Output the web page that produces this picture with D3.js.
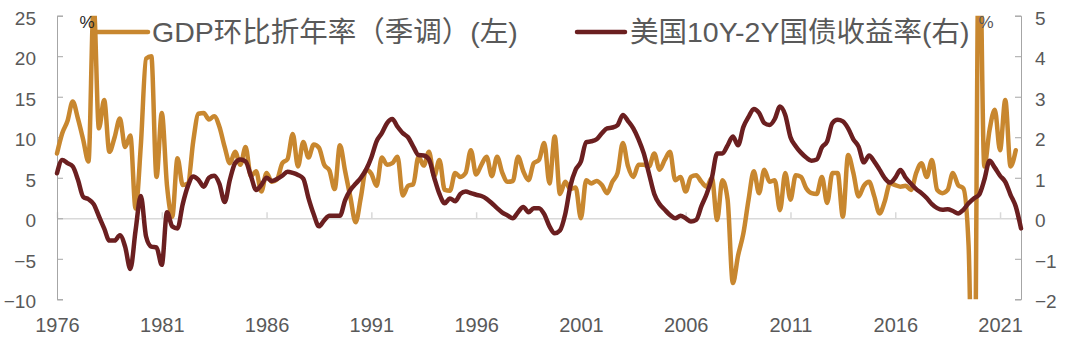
<!DOCTYPE html>
<html>
<head>
<meta charset="utf-8">
<script src="https://cdn.jsdelivr.net/npm/d3@7"></script>
<style>
  body { margin: 0; background: #fff; }
  svg { display: block; }
  text { font-family: "Liberation Sans", Arial, "Noto Sans CJK SC", sans-serif; }
</style>
</head>
<body>
<svg id="chart" width="1080" height="346"></svg>
<script>
// Quarterly series, first quarter 1976Q3
const xTickLabels = ["1976", "1981", "1986", "1991", "1996", "2001", "2006", "2011", "2016", "2021"];
const leftTicks = [-10, -5, 0, 5, 10, 15, 20, 25];
const rightTicks = [-2, -1, 0, 1, 2, 3, 4, 5];
const seriesNames = ["GDP环比折年率（季调）(左)", "美国10Y-2Y国债收益率(右)"];
const seriesColors = ["#C8872F", "#6B1F20"];

// US nominal GDP, q/q annualised, %
const gdpGrowth = [
  8.0, 10.5, 12.0, 14.4, 12.3, 9.7, 7.0, 26.5, 11.1, 14.6,
  8.2, 10.0, 12.3, 8.8, 10.2, 1.2, 9.0, 19.7, 20.0, 5.1,
  13.0, 4.0, 0.2, 7.4, 4.1, 4.3, 9.5, 12.9, 13.0, 12.2,
  12.6, 11.3, 8.8, 6.8, 8.2, 6.6, 8.8, 5.2, 5.8, 3.3,
  5.6, 4.5, 4.8, 6.8, 7.3, 10.4, 6.4, 9.4, 7.5, 9.1,
  8.7, 6.6, 5.9, 3.6, 9.0, 5.8, 2.6, -0.5, 2.6, 6.0,
  5.5, 4.0, 7.5, 6.6, 6.8, 7.6, 2.8, 4.0, 4.2, 7.6,
  6.5, 8.2, 5.2, 7.2, 3.5, 3.4, 5.6, 5.1, 5.6, 8.4,
  5.4, 6.6, 7.6, 5.2, 7.6, 5.6, 4.5, 4.6, 7.6, 5.8,
  4.7, 6.8, 7.2, 9.3, 4.3, 10.1, 3.0, 4.5, 3.6, 3.8,
  0.0, 4.7, 4.3, 4.6, 4.1, 3.1, 4.5, 5.6, 9.3, 6.4,
  5.1, 6.6, 6.6, 6.4, 8.0, 6.0, 7.2, 8.2, 4.7, 5.1,
  3.3, 5.1, 5.3, 4.5, 3.9, 5.0, -0.2, 4.7, 2.3, -8.0,
  -4.6, -1.9, 2.3, 5.8, 3.1, 6.0, 4.5, 4.7, 1.0, 5.6,
  2.3, 5.3, 5.1, 3.7, 3.1, 3.0, 5.1, 1.9, 5.6, 5.6,
  0.2, 7.8, 5.6, 2.7, 4.0, 4.5, 2.7, 0.6, 2.1, 4.3,
  4.1, 3.9, 4.0, 3.5, 5.6, 6.8, 5.1, 7.2, 3.5, 3.1,
  3.5, 5.6, 4.1, 3.7, -3.4, -33.0, 38.0, 6.4, 10.9, 13.4,
  8.4, 14.6, 6.4, 8.4
];

// US Treasury 10Y minus 2Y spread, %
const spread10y2y = [
  1.11, 1.44, 1.36, 1.28, 0.95, 0.53, 0.47, 0.35, 0.05, -0.25,
  -0.55, -0.55, -0.42, -0.70, -1.25, -0.30, 0.55, -0.45, -0.70, -0.72,
  -1.15, 0.15, -0.20, -0.25, 0.35, 0.80, 1.03, 0.95, 0.78, 1.00,
  1.05, 0.85, 0.40, 0.95, 1.36, 1.45, 1.40, 1.05, 0.70, 0.82,
  1.00, 0.92, 0.97, 1.05, 1.15, 1.12, 1.07, 0.98, 0.50, 0.10,
  -0.20, -0.05, 0.06, 0.06, 0.06, 0.45, 0.70, 0.85, 1.00, 1.20,
  1.50, 1.90, 2.10, 2.35, 2.45, 2.26, 2.10, 2.00, 1.77, 1.56,
  1.55, 1.45, 1.00, 0.60, 0.37, 0.49, 0.42, 0.60, 0.66, 0.62,
  0.58, 0.55, 0.48, 0.37, 0.25, 0.14, 0.07, 0.00, 0.15, 0.28,
  0.15, 0.25, 0.25, 0.10, -0.20, -0.37, -0.30, 0.10, 0.80, 1.20,
  1.40, 1.88, 1.90, 1.95, 2.10, 2.22, 2.24, 2.30, 2.55, 2.40,
  2.22, 1.95, 1.60, 1.10, 0.60, 0.35, 0.21, 0.08, 0.00, 0.06,
  0.00, -0.08, -0.04, 0.30, 0.60, 1.00, 1.60, 1.60, 1.80, 2.02,
  1.80, 2.25, 2.50, 2.70, 2.60, 2.35, 2.30, 2.45, 2.76, 2.55,
  2.00, 1.78, 1.62, 1.50, 1.42, 1.45, 1.75, 1.90, 2.35, 2.43,
  2.39, 2.22, 1.95, 1.77, 1.38, 1.55, 1.40, 1.20, 0.99, 0.88,
  1.00, 1.19, 1.00, 0.85, 0.72, 0.62, 0.50, 0.35, 0.25, 0.21,
  0.22, 0.18, 0.12, 0.21, 0.37, 0.49, 0.58, 0.95, 1.42, 1.25,
  1.05, 0.90, 0.58, 0.29, -0.25
];

const svg = d3.select("#chart");
const plot = { left: 57, right: 1021, top: 15.7, bottom: 299.3 };
const quartersPerLabel = 20;

const x = d3.scaleLinear()
  .domain([0, spread10y2y.length - 1])
  .range([plot.left, plot.right]);
const yLeft = d3.scaleLinear().domain([-10, 25]).range([plot.bottom, plot.top]);
const yRight = d3.scaleLinear().domain([-2, 5]).range([plot.bottom, plot.top]);

const axisGrey = "#A6A6A6";
const textGrey = "#595959";

// zero line with upward category ticks
const tickIdx = xTickLabels.map((_, k) => k * quartersPerLabel);
const zeroAxis = svg.append("g")
  .attr("transform", `translate(0,${yLeft(0)})`)
  .call(d3.axisBottom(x).tickValues(tickIdx).tickSizeInner(-6).tickSizeOuter(0).tickFormat(""));
zeroAxis.select(".domain").attr("stroke", "#D9D9D9").attr("stroke-width", 1.5);
zeroAxis.selectAll(".tick line").attr("stroke", "#D9D9D9").attr("stroke-width", 1.5);

// year labels along the bottom
const yearAxis = svg.append("g")
  .attr("transform", `translate(0,${plot.bottom})`)
  .call(d3.axisBottom(x).tickValues(tickIdx).tickSize(0).tickPadding(19)
    .tickFormat((d, k) => xTickLabels[k]));
yearAxis.select(".domain").remove();
yearAxis.selectAll("text").attr("fill", textGrey).style("font-size", "20px");

// left axis
const leftAxis = svg.append("g")
  .attr("transform", `translate(${plot.left},0)`)
  .call(d3.axisLeft(yLeft).tickValues(leftTicks).tickSizeInner(-6).tickSizeOuter(-6).tickPadding(21)
    .tickFormat(d => d < 0 ? "\u2212" + Math.abs(d) : d));
leftAxis.select(".domain").attr("stroke", axisGrey);
leftAxis.selectAll(".tick line").attr("stroke", axisGrey);
leftAxis.selectAll("text").attr("fill", textGrey).attr("dy", "0.45em").style("font-size", "19px");

// right axis
const rightAxis = svg.append("g")
  .attr("transform", `translate(${plot.right},0)`)
  .call(d3.axisRight(yRight).tickValues(rightTicks).tickSizeInner(-6).tickSizeOuter(-6).tickPadding(14)
    .tickFormat(d => d < 0 ? "\u2212" + Math.abs(d) : d));
rightAxis.select(".domain").attr("stroke", axisGrey);
rightAxis.selectAll(".tick line").attr("stroke", axisGrey);
rightAxis.selectAll("text").attr("fill", textGrey).attr("dy", "0.45em").style("font-size", "19px");

// clip area for the lines
svg.append("clipPath").attr("id", "plot-clip")
  .append("rect")
  .attr("x", plot.left - 4).attr("y", plot.top)
  .attr("width", plot.right - plot.left + 8).attr("height", plot.bottom - plot.top);

const lines = svg.append("g").attr("clip-path", "url(#plot-clip)");

const gdpLine = d3.line()
  .x((d, i) => x(i))
  .y(d => yLeft(d))
  .curve(d3.curveMonotoneX);
const spreadLine = d3.line()
  .x((d, i) => x(i))
  .y(d => yRight(d))
  .curve(d3.curveMonotoneX);

lines.append("path").datum(gdpGrowth)
  .attr("d", gdpLine)
  .attr("fill", "none").attr("stroke", seriesColors[0])
  .attr("stroke-width", 4.5).attr("stroke-linejoin", "round").attr("stroke-linecap", "round");

lines.append("path").datum(spread10y2y)
  .attr("d", spreadLine)
  .attr("fill", "none").attr("stroke", seriesColors[1])
  .attr("stroke-width", 4.5).attr("stroke-linejoin", "round").attr("stroke-linecap", "round");

// unit marks
svg.append("text").attr("x", 87).attr("y", 28).attr("text-anchor", "middle")
  .attr("fill", "#262626").style("font-size", "17px").text("%");
svg.append("text").attr("x", 986).attr("y", 28).attr("text-anchor", "middle")
  .attr("fill", textGrey).style("font-size", "17px").text("%");

// legend
const legendItems = [
  { x0: 93, x1: 148, tx: 152 },
  { x0: 577, x1: 625, tx: 630 }
];
const legend = svg.append("g");
legendItems.forEach((it, k) => {
  legend.append("line")
    .attr("x1", it.x0).attr("x2", it.x1).attr("y1", 32).attr("y2", 32)
    .attr("stroke", seriesColors[k]).attr("stroke-width", 4.5).attr("stroke-linecap", "round");
  legend.append("text")
    .attr("x", it.tx).attr("y", 42)
    .attr("fill", textGrey).style("font-size", "28.5px")
    .text(seriesNames[k]);
});
</script>
</body>
</html>
